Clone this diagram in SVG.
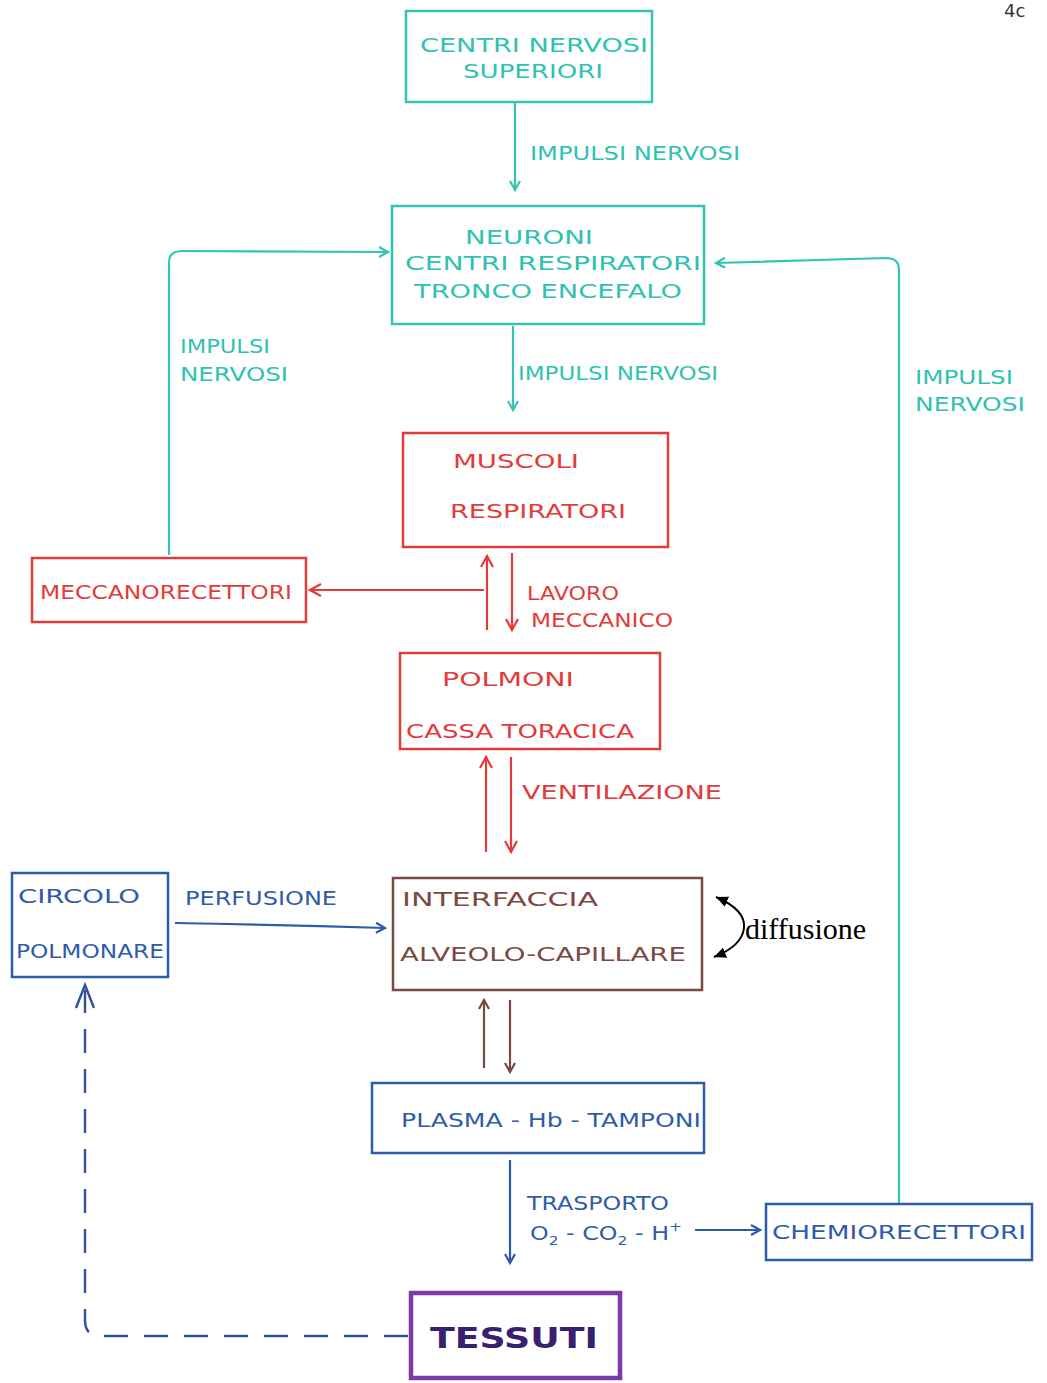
<svg xmlns="http://www.w3.org/2000/svg" width="1047" height="1383" viewBox="0 0 1047 1383">
<style>
.t{font-family:"DejaVu Sans","Liberation Sans",sans-serif;font-size:20px;}
.teal{fill:#2fc2b2;}
.red{fill:#e23b3b;}
.blue{fill:#2f5caa;}
.brown{fill:#7a4a42;}
.bx{fill:none;stroke-width:2.5;}
.sT{stroke:#35c4b4;}
.sR{stroke:#e03c3c;}
.sB{stroke:#2f5caa;}
.sBr{stroke:#7a4a42;}
.ln{fill:none;stroke-width:2.2;}
</style>
<defs>
<marker id="aT" viewBox="0 0 12 12" refX="10" refY="6" markerWidth="12" markerHeight="12" orient="auto" markerUnits="userSpaceOnUse"><path d="M1,1 L10,6 L1,11" fill="none" stroke="#35c4b4" stroke-width="2.2"/></marker>
<marker id="aR" viewBox="0 0 14 14" refX="12" refY="7" markerWidth="14" markerHeight="14" orient="auto" markerUnits="userSpaceOnUse"><path d="M1,1 L12,7 L1,13" fill="none" stroke="#e03c3c" stroke-width="2.2"/></marker>
<marker id="aB" viewBox="0 0 12 12" refX="10" refY="6" markerWidth="12" markerHeight="12" orient="auto" markerUnits="userSpaceOnUse"><path d="M1,1 L10,6 L1,11" fill="none" stroke="#2f5caa" stroke-width="2.2"/></marker>
<marker id="aBr" viewBox="0 0 12 12" refX="10" refY="6" markerWidth="12" markerHeight="12" orient="auto" markerUnits="userSpaceOnUse"><path d="M1,1 L10,6 L1,11" fill="none" stroke="#7a4a42" stroke-width="2.2"/></marker>
<marker id="aK" viewBox="0 0 12 12" refX="11" refY="6" markerWidth="13" markerHeight="13" orient="auto-start-reverse" markerUnits="userSpaceOnUse"><path d="M0,1 L11,6 L0,11 Z" fill="#000"/></marker>
</defs>
<rect width="1047" height="1383" fill="#fff"/>
<text x="1004" y="17" style="font-family:'DejaVu Sans',sans-serif;font-size:18px;fill:#333">4c</text>

<g id="connectors">
<line class="ln sT" x1="515" y1="103" x2="515" y2="190" marker-end="url(#aT)"/>
<text class="t teal" x="530" y="160" textLength="210" lengthAdjust="spacingAndGlyphs">IMPULSI NERVOSI</text>
<line class="ln sT" x1="513" y1="326" x2="513" y2="410" marker-end="url(#aT)"/>
<text class="t teal" x="518" y="380" textLength="200" lengthAdjust="spacingAndGlyphs">IMPULSI NERVOSI</text>
<path class="ln sT" d="M169,555 L169,262 Q169,251 182,251 L388,252" marker-end="url(#aT)"/>
<text class="t teal" x="180" y="353" textLength="90" lengthAdjust="spacingAndGlyphs">IMPULSI</text>
<text class="t teal" x="180" y="381" textLength="108" lengthAdjust="spacingAndGlyphs">NERVOSI</text>
<path class="ln sT" d="M899,1203 L899,270 Q899,258 886,258 L716,263" marker-end="url(#aT)"/>
<text class="t teal" x="915" y="384" textLength="98" lengthAdjust="spacingAndGlyphs">IMPULSI</text>
<text class="t teal" x="915" y="411" textLength="110" lengthAdjust="spacingAndGlyphs">NERVOSI</text>

<line class="ln sR" x1="484" y1="590" x2="310" y2="590" marker-end="url(#aR)"/>
<line class="ln sR" x1="487" y1="630" x2="487" y2="556" marker-end="url(#aR)"/>
<line class="ln sR" x1="512" y1="553" x2="512" y2="630" marker-end="url(#aR)"/>
<text class="t red" x="527" y="600" textLength="92" lengthAdjust="spacingAndGlyphs">LAVORO</text>
<text class="t red" x="531" y="627" textLength="142" lengthAdjust="spacingAndGlyphs">MECCANICO</text>
<line class="ln sR" x1="486" y1="852" x2="486" y2="757" marker-end="url(#aR)"/>
<line class="ln sR" x1="511" y1="757" x2="511" y2="852" marker-end="url(#aR)"/>
<text class="t red" x="522" y="799" textLength="200" lengthAdjust="spacingAndGlyphs">VENTILAZIONE</text>

<text class="t blue" x="185" y="905" textLength="152" lengthAdjust="spacingAndGlyphs">PERFUSIONE</text>
<path class="ln sB" d="M175,923 Q280,925 385,928" marker-end="url(#aB)"/>

<path fill="none" stroke="#000" stroke-width="2" d="M716,897 Q746,910 744,928 Q742,946 714,957" marker-start="url(#aK)" marker-end="url(#aK)"/>
<text x="745" y="939" style="font-family:'Liberation Serif','Times New Roman',serif;font-size:30px;fill:#000">diffusione</text>

<line class="ln sBr" x1="484" y1="1068" x2="484" y2="1000" marker-end="url(#aBr)"/>
<line class="ln sBr" x1="510" y1="1000" x2="510" y2="1072" marker-end="url(#aBr)"/>

<line class="ln sB" x1="510" y1="1160" x2="510" y2="1263" marker-end="url(#aB)"/>
<text class="t blue" x="527" y="1210" textLength="142" lengthAdjust="spacingAndGlyphs">TRASPORTO</text>
<text class="t blue" x="530" y="1240" textLength="152" lengthAdjust="spacingAndGlyphs">O<tspan font-size="13" dy="5">2</tspan><tspan dy="-5"> - CO</tspan><tspan font-size="13" dy="5">2</tspan><tspan dy="-5"> - H</tspan><tspan font-size="13" dy="-9">+</tspan></text>
<line class="ln sB" x1="695" y1="1230" x2="760" y2="1230" marker-end="url(#aB)"/>

<path fill="none" stroke="#2f4f9a" stroke-width="2.4" stroke-dasharray="24,16" d="M408,1336 L100,1336 Q85,1336 85,1320 L85,990"/>
<path d="M76,1008 L85,985 L94,1008" fill="none" stroke="#2f4f9a" stroke-width="2.4"/>
</g>

<g id="centri-nervosi-superiori">
<rect class="bx sT" x="406" y="11" width="246" height="91"/>
<text class="t teal" x="420" y="52" textLength="228" lengthAdjust="spacingAndGlyphs">CENTRI NERVOSI</text>
<text class="t teal" x="463" y="78" textLength="140" lengthAdjust="spacingAndGlyphs">SUPERIORI</text>
</g>

<g id="neuroni-centri-respiratori">
<rect class="bx sT" x="392" y="206" width="312" height="118"/>
<text class="t teal" x="465" y="244" textLength="128" lengthAdjust="spacingAndGlyphs">NEURONI</text>
<text class="t teal" x="405" y="270" textLength="296" lengthAdjust="spacingAndGlyphs">CENTRI RESPIRATORI</text>
<text class="t teal" x="414" y="298" textLength="268" lengthAdjust="spacingAndGlyphs">TRONCO ENCEFALO</text>
</g>

<g id="muscoli-respiratori">
<rect class="bx sR" x="403" y="433" width="265" height="114"/>
<text class="t red" x="453" y="468" textLength="126" lengthAdjust="spacingAndGlyphs">MUSCOLI</text>
<text class="t red" x="450" y="518" textLength="176" lengthAdjust="spacingAndGlyphs">RESPIRATORI</text>
</g>

<g id="meccanorecettori">
<rect class="bx sR" x="32" y="558" width="274" height="64"/>
<text class="t red" x="40" y="599" textLength="252" lengthAdjust="spacingAndGlyphs">MECCANORECETTORI</text>
</g>

<g id="polmoni-cassa-toracica">
<rect class="bx sR" x="400" y="653" width="260" height="96"/>
<text class="t red" x="442" y="686" textLength="132" lengthAdjust="spacingAndGlyphs">POLMONI</text>
<text class="t red" x="406" y="738" textLength="228" lengthAdjust="spacingAndGlyphs">CASSA TORACICA</text>
</g>

<g id="circolo-polmonare">
<rect class="bx sB" x="12" y="873" width="156" height="104"/>
<text class="t blue" x="18" y="903" textLength="122" lengthAdjust="spacingAndGlyphs">CIRCOLO</text>
<text class="t blue" x="16" y="958" textLength="148" lengthAdjust="spacingAndGlyphs">POLMONARE</text>
</g>

<g id="interfaccia-alveolo-capillare">
<rect class="bx sBr" x="393" y="878" width="309" height="112"/>
<text class="t brown" x="402" y="906" textLength="196" lengthAdjust="spacingAndGlyphs">INTERFACCIA</text>
<text class="t brown" x="400" y="961" textLength="286" lengthAdjust="spacingAndGlyphs">ALVEOLO-CAPILLARE</text>
</g>

<g id="plasma-hb-tamponi">
<rect class="bx sB" x="372" y="1083" width="332" height="70"/>
<text class="t blue" x="401" y="1127" textLength="300" lengthAdjust="spacingAndGlyphs">PLASMA - Hb - TAMPONI</text>
</g>

<g id="chemiorecettori">
<rect class="bx sB" x="766" y="1204" width="266" height="56"/>
<text class="t blue" x="772" y="1239" textLength="254" lengthAdjust="spacingAndGlyphs">CHEMIORECETTORI</text>
</g>

<g id="tessuti">
<rect fill="none" stroke="#7b3aa8" stroke-width="4.5" x="411" y="1293" width="209" height="85"/>
<text x="430" y="1348" textLength="168" lengthAdjust="spacingAndGlyphs" style="font-family:'DejaVu Sans',sans-serif;font-size:28px;font-weight:bold;fill:#3a1f6e">TESSUTI</text>
</g>
</svg>
